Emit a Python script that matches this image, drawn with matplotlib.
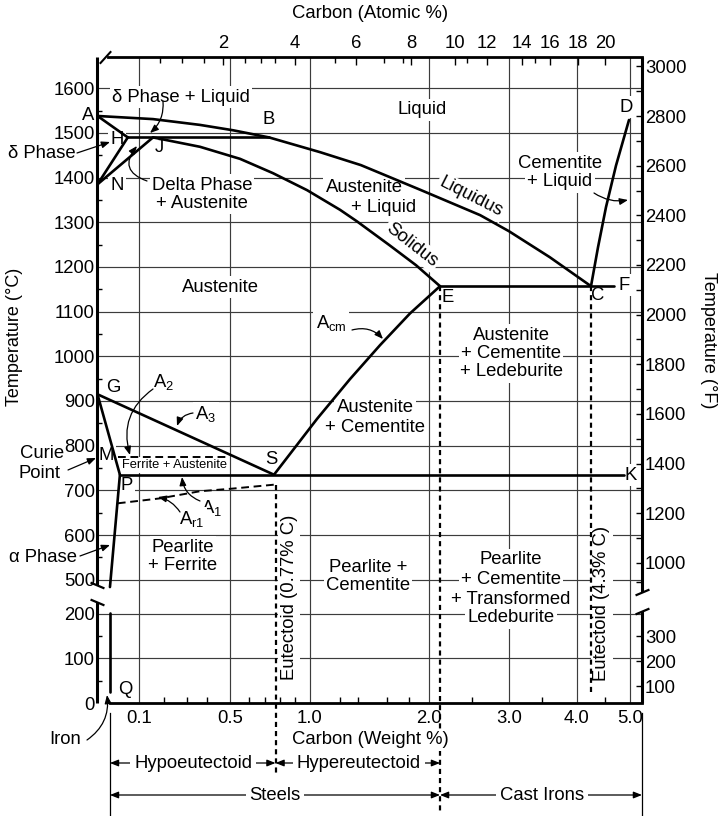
import numpy as np
import matplotlib
matplotlib.use("Agg")
import matplotlib.pyplot as plt
from matplotlib.ticker import FixedLocator, NullFormatter
from matplotlib.path import Path

plt.rcParams.update({
    "font.family": ["Liberation Sans", "DejaVu Sans"],
    "mathtext.fontset": "custom",
    "mathtext.rm": "Liberation Sans",
    "mathtext.it": "Liberation Sans:italic",
    "mathtext.bf": "Liberation Sans:bold",
})

# ------------------------------------------------------------------ data
# phase boundaries as (carbon weight %, temperature in degC)
LIQUIDUS_WT = [0.0, 0.156, 0.365, 0.516, 0.727, 1.067, 1.42, 1.91, 2.61, 3.0, 3.61, 4.25]
LIQUIDUS_T = [1538, 1531, 1518, 1506, 1490, 1457, 1428, 1373, 1316, 1280, 1222, 1157]
SOLIDUS_WT = [0.156, 0.365, 0.553, 0.753, 0.98, 1.2, 1.389, 1.621, 1.87, 2.128]
SOLIDUS_T = [1490, 1469, 1442, 1410, 1372, 1328, 1302, 1249, 1204, 1157]
CEMENTITE_WT = [4.25, 4.375, 4.52, 4.72, 4.98]
CEMENTITE_T = [1157, 1244, 1334, 1427, 1529]
AH_WT, AH_T = [0.0, 0.073], [1538, 1490]
HJB_WT, HJB_T = [0.073, 0.727], [1490, 1490]
HN_WT, HN_T = [0.073, 0.0], [1490, 1385]
JN_WT, JN_T = [0.156, 0.0], [1490, 1385]
ECF_WT, ECF_T = [2.128, 4.68], [1157, 1157]
ACM_WT = [0.76, 1.047, 1.311, 1.552, 1.81, 2.128]
ACM_T = [735, 860, 949, 1025, 1096, 1157]
GS_WT, GS_T = [0.0, 0.76], [915, 735]
GP_WT, GP_T = [0.0, 0.054], [915, 735]
PSK_WT, PSK_T = [0.054, 4.88], [735, 735]
PQ_UP_WT, PQ_UP_T = [0.054, 0.030], [735, 435]
PQ_LO_WT, PQ_LO_T = [0.030, 0.030], [208, 25]
CURIE_WT, CURIE_T = [0.05, 0.487], [774, 774]
AR1_WT = [0.049, 0.184, 0.365, 0.516, 0.77]
AR1_T = [671, 682, 698, 704, 713]
EUTECTOID_WT, EUTECTOID_T = [0.77, 0.77], [713, -157]
E_DROP_WT, E_DROP_T = [2.128, 2.128], [1157, -246]
C_DROP_WT, C_DROP_T = [4.25, 4.25], [1157, 15]
IRON_WT, IRON_T = [0.03, 0.03], [-22, -253]
RIGHT_WT, RIGHT_T = [5.24, 5.24], [-22, -253]

# composition ranges under the axis (weight %)
HYPO = (0.03, 0.77)
HYPER = (0.77, 2.128)
STEELS = (0.03, 2.128)
CAST = (2.128, 5.24)

# axis ticks
WT_MAJOR = [0.1, 0.5, 1.0, 2.0, 3.0, 4.0, 5.0]
WT_LABELS = ["0.1", "0.5", "1.0", "2.0", "3.0", "4.0", "5.0"]
WT_MINOR = [0.2, 0.3, 0.4, 0.6, 0.7, 0.8, 0.9, 1.2, 1.4, 1.6, 1.8, 2.5, 3.5, 4.5]
T_MAJOR = [0, 100, 200, 500, 600, 700, 800, 900, 1000, 1100, 1200, 1300, 1400, 1500, 1600]
T_MINOR = [50, 150, 550, 650, 750, 850, 950, 1050, 1150, 1250, 1350, 1450, 1550]
T_GRID = [100, 200, 500, 600, 700, 800, 900, 1000, 1100, 1200, 1300, 1400, 1500, 1600]
F_MAJOR = [100, 200, 300, 1000, 1200, 1400, 1600, 1800, 2000, 2200, 2400, 2600, 2800, 3000]
F_MINOR = [900, 1100, 1300, 1500, 1700, 1900, 2100, 2300, 2500, 2700, 2900]
AT_MAJOR = [2, 4, 6, 8, 10, 12, 14, 16, 18, 20]
AT_MINOR = [1.0, 1.35, 1.7, 2.6, 3.05, 3.45, 5.3, 7.0, 7.7, 10.75, 14.95]

# axis scale definition (non-uniform carbon axes, broken temperature axis)
WT_ANCHOR = [-1.0, 0.0, 0.1, 0.2, 0.3, 0.4, 0.5, 0.6, 0.7, 0.8, 0.9, 1.0, 1.2, 1.4, 1.6, 1.8,
             2.0, 2.5, 3.0, 3.5, 4.0, 4.5, 5.0, 6.0]
WT_POS = [-317.5, 97.5, 139, 164, 187, 207, 230, 249, 265, 280, 295, 310, 340, 358, 387, 409,
          429, 472, 509, 542, 577, 605, 630, 680]
AT_ANCHOR = [-10, 0, 2, 4, 6, 8, 10, 12, 14, 16, 18, 20, 22.5, 30]
AT_POS = [-530, 97.5, 223, 295, 356, 411, 455, 487, 522, 550, 578, 605, 642, 753]
T_ANCHOR = [-1000, 0, 200, 500, 1670, 3000]
T_POS = [-1000, 0, 200, 276, 1446, 2776]
X_MAX, AT_MAX, T_MAX = 5.24, 22.5, 1670
LEFT_BREAK = (300, 450)
RIGHT_BREAK = (223, 390)

# ------------------------------------------------------------------ figure
W, H = 722, 816
FS = 13.3
fig = plt.figure(figsize=(W / 100, H / 100), dpi=100)
fig.patch.set_facecolor("white")
AX_L, AX_R, AX_T, AX_B = 97.5, 642.0, 57.0, 703.0
ax = fig.add_axes([AX_L / W, (H - AX_B) / H, (AX_R - AX_L) / W, (AX_B - AX_T) / H])


def piecewise(src, dst):
    src = np.asarray(src, float)
    dst = np.asarray(dst, float)

    def fwd(v):
        return np.interp(np.asarray(v, float), src, dst)

    def inv(v):
        return np.interp(np.asarray(v, float), dst, src)
    return fwd, inv


x_fwd, x_inv = piecewise(WT_ANCHOR, WT_POS)
y_fwd, y_inv = piecewise(T_ANCHOR, T_POS)
a_fwd, a_inv = piecewise(AT_ANCHOR, AT_POS)


def f_fwd(F):
    return y_fwd((np.asarray(F, float) - 32.0) / 1.8)


def f_inv(p):
    return y_inv(p) * 1.8 + 32.0


ax.set_xscale("function", functions=(x_fwd, x_inv))
ax.set_yscale("function", functions=(y_fwd, y_inv))
ax.set_xlim(0, X_MAX)
ax.set_ylim(0, T_MAX)

axr = ax.twinx()
axr.set_yscale("function", functions=(f_fwd, f_inv))
axr.set_ylim(32, T_MAX * 1.8 + 32)
axt = ax.twiny()
axt.set_xscale("function", functions=(a_fwd, a_inv))
axt.set_xlim(0, AT_MAX)

# grid
GRID_C, GRID_LW = "#3c3c3c", 0.85
for v in WT_MAJOR:
    ax.axvline(v, color=GRID_C, lw=GRID_LW, zorder=1)
for v in T_GRID:
    ax.axhline(v, color=GRID_C, lw=GRID_LW, zorder=1)

# ticks - bottom / left
ax.set_xticks(WT_MAJOR, WT_LABELS)
ax.xaxis.set_minor_locator(FixedLocator(WT_MINOR))
ax.xaxis.set_minor_formatter(NullFormatter())
ax.tick_params(axis="x", which="major", length=0, pad=5, labelsize=FS)
ax.tick_params(axis="x", which="minor", direction="in", length=4.3, width=1.0)
ax.set_yticks(T_MAJOR, [str(v) for v in T_MAJOR])
ax.yaxis.set_minor_locator(FixedLocator(T_MINOR))
ax.yaxis.set_minor_formatter(NullFormatter())
ax.tick_params(axis="y", which="major", length=0, pad=1.8, labelsize=FS)
ax.tick_params(axis="y", which="minor", direction="in", length=3.8, width=1.0)

# ticks - right (deg F)
axr.set_yticks(F_MAJOR, [str(v) for v in F_MAJOR])
axr.yaxis.set_minor_locator(FixedLocator(F_MINOR))
axr.yaxis.set_minor_formatter(NullFormatter())
axr.tick_params(axis="y", which="both", direction="in", length=4.3, width=1.0, pad=2.2,
                labelsize=FS)

# ticks - top (atomic %)
axt.set_xticks(AT_MAJOR, [str(v) for v in AT_MAJOR])
axt.xaxis.set_minor_locator(FixedLocator(AT_MINOR))
axt.xaxis.set_minor_formatter(NullFormatter())
axt.tick_params(axis="x", which="major", direction="in", length=5.5, width=1.0, pad=3.5,
                labelsize=FS)
axt.tick_params(axis="x", which="minor", direction="in", length=4.0, width=1.0)

for a in (axr, axt):
    for s in a.spines.values():
        s.set_visible(False)
ax.spines["left"].set_visible(False)
ax.spines["right"].set_visible(False)
ax.spines["top"].set_bounds(0.026, X_MAX)
ax.spines["bottom"].set_bounds(0.03, X_MAX)
ax.spines["top"].set_linewidth(2.0)
ax.spines["bottom"].set_linewidth(2.0)

SPINE = dict(color="k", lw=2.2, clip_on=False, solid_capstyle="butt", zorder=5)
ax.plot([0, 0], [0, LEFT_BREAK[0]], **SPINE)
ax.plot([0, 0], [LEFT_BREAK[1], T_MAX], **SPINE)
ax.plot([X_MAX, X_MAX], [0, RIGHT_BREAK[0]], **SPINE)
ax.plot([X_MAX, X_MAX], [RIGHT_BREAK[1], T_MAX], **SPINE)

back = Path([(-1, 0.42), (1, -0.42)], [Path.MOVETO, Path.LINETO])
fwd_sl = Path([(-1, -0.42), (1, 0.42)], [Path.MOVETO, Path.LINETO])
MK = dict(ls="none", ms=10, mew=1.6, mec="k", mfc="none", clip_on=False, zorder=5)
ax.plot([0, 0], list(LEFT_BREAK), marker=back, **MK)
ax.plot([X_MAX, X_MAX], list(RIGHT_BREAK), marker=fwd_sl, **MK)
ax.plot([0.018], [T_MAX], marker=Path([(-1, -1.1), (1, 1.1)], [Path.MOVETO, Path.LINETO]),
        ls="none", ms=9, mew=1.5, mec="k", clip_on=False, zorder=5)

# phase boundaries
SOLID_LINES = [
    (LIQUIDUS_WT, LIQUIDUS_T), (SOLIDUS_WT, SOLIDUS_T), (CEMENTITE_WT, CEMENTITE_T),
    (AH_WT, AH_T), (HJB_WT, HJB_T), (HN_WT, HN_T), (JN_WT, JN_T), (ECF_WT, ECF_T),
    (ACM_WT, ACM_T), (GS_WT, GS_T), (GP_WT, GP_T), (PSK_WT, PSK_T),
    (PQ_UP_WT, PQ_UP_T), (PQ_LO_WT, PQ_LO_T),
]
for xs, ys in SOLID_LINES:
    ax.plot(xs, ys, color="k", lw=1.9, zorder=4, solid_joinstyle="round",
            solid_capstyle="round", clip_on=False)

for xs, ys in [(CURIE_WT, CURIE_T), (AR1_WT, AR1_T)]:
    ax.plot(xs, ys, color="k", lw=1.4, ls=(0, (4.0, 2.4)), zorder=4, clip_on=False)
for xs, ys in [(EUTECTOID_WT, EUTECTOID_T), (E_DROP_WT, E_DROP_T), (C_DROP_WT, C_DROP_T)]:
    ax.plot(xs, ys, color="k", lw=1.6, ls=(0, (2.3, 1.8)), zorder=4, clip_on=False)
for xs, ys in [(IRON_WT, IRON_T), (RIGHT_WT, RIGHT_T)]:
    ax.plot(xs, ys, color="k", lw=0.9, zorder=4, clip_on=False)


# ------------------------------------------------------------------ annotations
def fp(x, y):
    return (x, H - y)


BOX = dict(boxstyle="square,pad=0.12", fc="white", ec="none")


def label(s, x, y, size=FS, rot=0, box=True, z=3):
    ax.annotate(s, xy=fp(x, y), xycoords="figure pixels", ha="center", va="center",
                fontsize=size, rotation=rot, rotation_mode="anchor",
                bbox=BOX if box else None, zorder=z, annotation_clip=False)


ARROW = "-|>,head_length=0.5,head_width=0.2"


def arrow(tail, head, rad=0.0):
    ax.annotate("", xy=fp(*head), xycoords="figure pixels", xytext=fp(*tail),
                textcoords="figure pixels", annotation_clip=False, zorder=3.5,
                arrowprops=dict(arrowstyle=ARROW, mutation_scale=10, lw=0.9, color="k",
                                shrinkA=0, shrinkB=0,
                                connectionstyle=f"arc3,rad={rad}"))


def span(rng, ypix, text, xtext):
    ax.annotate("", xy=(rng[1], H - ypix), xycoords=("data", "figure pixels"),
                xytext=(rng[0], H - ypix), textcoords=("data", "figure pixels"),
                annotation_clip=False, zorder=2,
                arrowprops=dict(arrowstyle="<|-|>,head_length=0.5,head_width=0.2",
                                mutation_scale=10, lw=0.9, color="k", shrinkA=0, shrinkB=0))
    ax.annotate(text, xy=fp(xtext, ypix), xycoords="figure pixels", ha="center",
                va="center", fontsize=FS, zorder=3, annotation_clip=False,
                bbox=dict(boxstyle="square,pad=0.2", fc="white", ec="none"))


LABELS = [
    ("\u03b4 Phase + Liquid", 181, 97), ("Liquid", 422, 110), ("B", 269, 119),
    ("H", 117, 139), ("J", 159, 147), ("N", 117, 185),
    ("Delta Phase", 202, 185), ("+ Austenite", 202, 203),
    ("Austenite", 364, 188), ("+ Liquid", 384, 207),
    ("Cementite", 560, 163), ("+ Liquid", 560, 182), ("D", 626, 107),
    ("Austenite", 220, 287), ("E", 448, 297), ("C", 598, 296), ("F", 624, 285),
    (r"$\mathrm{A}_{\mathrm{cm}}$", 331, 323),
    ("Austenite", 511, 335), ("+ Cementite", 511, 353), ("+ Ledeburite", 511, 372),
    ("Austenite", 375, 408), ("+ Cementite", 375, 427),
    ("G", 113, 387), (r"$\mathrm{A}_{2}$", 164, 382), (r"$\mathrm{A}_{3}$", 206, 414),
    ("M", 106, 455), ("S", 271, 459), ("P", 127, 485), ("K", 631, 475),
    (r"$\mathrm{A}_{1}$", 212, 508), (r"$\mathrm{A}_{\mathrm{r1}}$", 192, 519),
    ("Pearlite", 183, 547), ("+ Ferrite", 183, 565),
    ("Pearlite +", 368, 567), ("Cementite", 368, 585),
    ("Pearlite", 511, 560), ("+ Cementite", 511, 580), ("+ Transformed", 511, 599),
    ("Ledeburite", 511, 618), ("Q", 125, 690),
]
for s, x, y in LABELS:
    label(s, x, y)
label("Ferrite + Austenite", 175, 465, size=9.3)
label("Liquidus", 471, 197, rot=-27)
label("Solidus", 412, 245, rot=-38)
label("Eutectoid (0.77% C)", 289, 597, rot=90)
label("Eutectoid (4.3% C)", 602, 603, rot=90)
label("Carbon (Weight %)", 370, 740, z=4.5)

OUTSIDE = [
    ("A", 88, 115), ("\u03b4 Phase", 42, 154), ("Curie", 42, 453), ("Point", 40, 473),
    ("\u03b1 Phase", 43, 557), ("Iron", 65, 740), ("Carbon (Atomic %)", 370, 14),
]
for s, x, y in OUTSIDE:
    label(s, x, y, box=False)
label("Temperature (\u00b0C)", 15, 337, rot=90, box=False, size=13)
label("Temperature (\u00b0F)", 708, 340, rot=-90, box=False, size=13)

ARROWS = [
    ((163, 101), (150, 133), -0.25),
    ((77, 153), (110, 142), 0.0),
    ((147, 181), (137, 146), -0.7),
    ((594, 193), (628, 200), 0.2),
    ((352, 330), (383, 339), -0.3),
    ((153, 389), (130, 455), 0.35),
    ((193, 413), (177, 426), 0.3),
    ((68, 470), (96, 458), 0.0),
    ((200, 501), (182, 477), -0.3),
    ((180, 512), (158, 497), 0.2),
    ((80, 556), (110, 545), 0.0),
    ((87, 740), (107, 695), 0.3),
]
for t, h, r in ARROWS:
    arrow(t, h, r)

span(HYPO, 763, "Hypoeutectoid", 193)
span(HYPER, 763, "Hypereutectoid", 359)
span(STEELS, 795, "Steels", 275)
span(CAST, 795, "Cast Irons", 542)

fig.savefig("out.png", dpi=100, facecolor="white")
